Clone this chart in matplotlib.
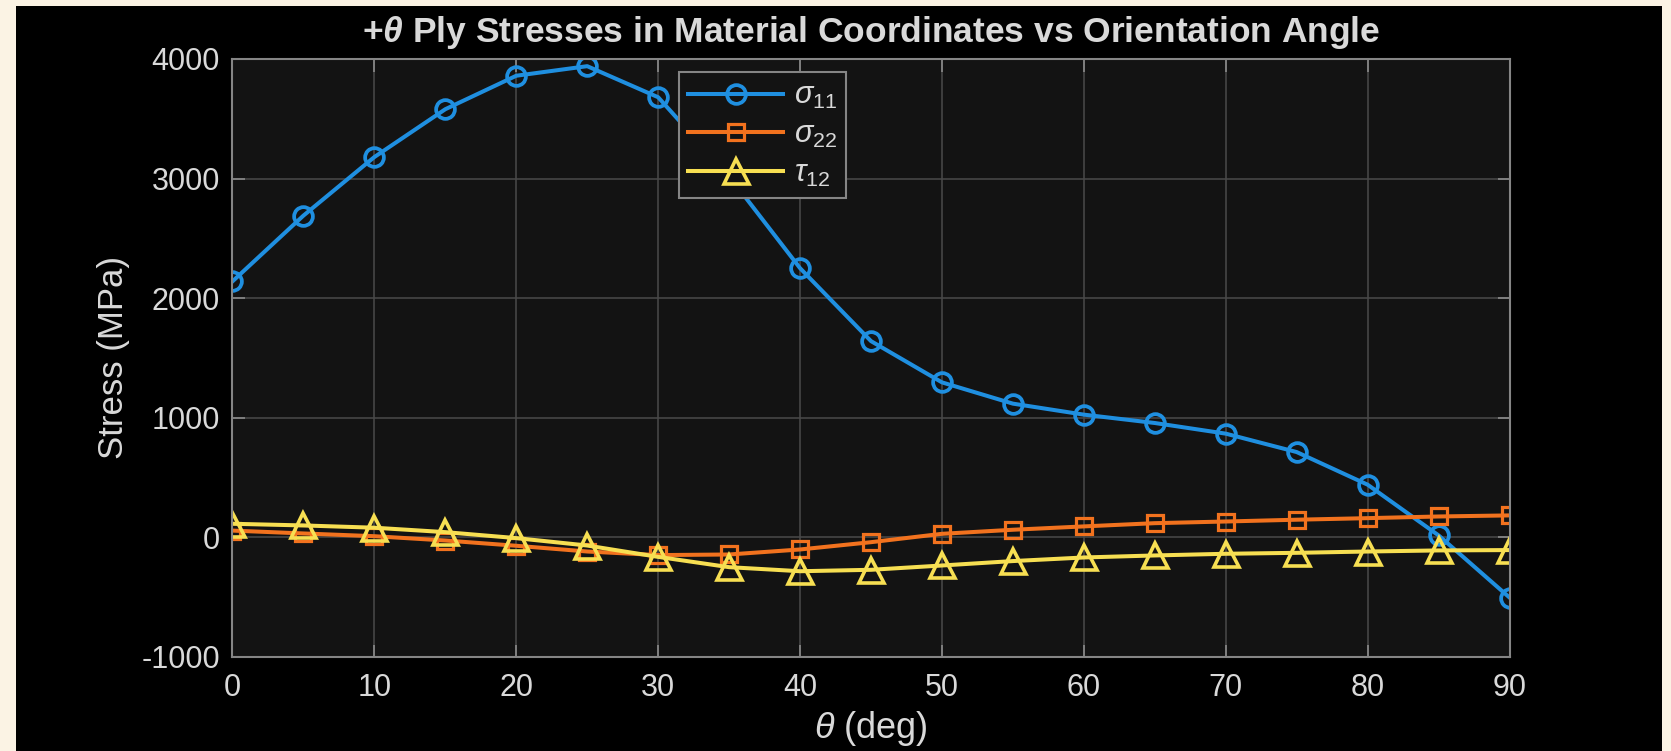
import matplotlib
matplotlib.use('Agg')
import matplotlib.pyplot as plt
from matplotlib.patches import Rectangle

# ply orientation angle (deg) and +theta ply stresses in material axes (MPa)
theta = [0, 5, 10, 15, 20, 25, 30, 35, 40, 45, 50, 55, 60, 65, 70, 75, 80, 85, 90]
sigma_11 = [2140, 2690, 3180, 3580, 3860, 3940, 3680, 3020, 2250, 1640,
            1295, 1117, 1025, 955, 866, 712, 439, 15, -505]
sigma_22 = [55, 31, 8, -28, -72, -120, -150, -145, -103, -42,
            28, 62, 90, 117, 131, 146, 159, 173, 182]
tau_12 = [112, 98, 79, 42, -8, -70, -165, -251, -285, -273,
          -237, -200, -170, -153, -139, -131, -120, -111, -108]

series_labels = [r'$\sigma_{11}$', r'$\sigma_{22}$', r'$\tau_{12}$']
x_ticks = [0, 10, 20, 30, 40, 50, 60, 70, 80, 90]
y_ticks = [-1000, 0, 1000, 2000, 3000, 4000]

plt.rcParams['font.family'] = ['Liberation Sans', 'DejaVu Sans']
plt.rcParams['axes.unicode_minus'] = False
plt.rcParams['mathtext.fontset'] = 'custom'
plt.rcParams['mathtext.rm'] = 'Liberation Sans'
plt.rcParams['mathtext.it'] = 'Liberation Sans:italic'
plt.rcParams['mathtext.bf'] = 'Liberation Sans:bold'
plt.rcParams['mathtext.bfit'] = 'Liberation Sans:italic:bold'

txt = '#d9d9d9'
edge = '#858585'

W, H = 1671, 751
fig = plt.figure(figsize=(W / 100, H / 100), dpi=100)
fig.patch.set_facecolor('#fbf3e4')
# black panel behind everything, leaving a thin cream margin
fig.patches.append(Rectangle((16 / W, 0), (1662 - 16) / W, 1 - 6 / H,
                             transform=fig.transFigure, facecolor='black',
                             edgecolor='none', zorder=-10))

ax = fig.add_axes([232.5 / W, 1 - 656.7 / H, (1509.5 - 232.5) / W, (656.7 - 59) / H])
ax.set_facecolor('#131313')

ax.plot(theta, sigma_11, '-o', color='#1f8fe0', lw=2.9, ms=13.5, mew=2.7,
        mfc='none', label=series_labels[0])
ax.plot(theta, sigma_22, '-s', color='#f2721e', lw=2.9, ms=12, mew=2.3,
        mfc='none', label=series_labels[1])
ax.plot(theta, tau_12, '-^', color='#f7df52', lw=2.9, ms=18, mew=2.6,
        mfc='none', label=series_labels[2])

ax.set_xlim(0, 90)
ax.set_ylim(-1000, 4000)
ax.set_xticks(x_ticks)
ax.set_yticks(y_ticks)
ax.grid(True, color='#4a4a4a', lw=1.1)
ax.set_axisbelow(True)
for s in ax.spines.values():
    s.set_color(edge)
    s.set_linewidth(1.5)
ax.tick_params(direction='in', length=9, width=1.3, color=edge,
               labelcolor=txt, labelsize=22, top=True, right=True)
ax.tick_params(axis='x', pad=12)
ax.tick_params(axis='y', pad=9)

ax.set_xlabel(r'$\theta$ (deg)', fontsize=26, color=txt, labelpad=4)
ax.set_ylabel('Stress (MPa)', fontsize=25, color=txt, labelpad=8)
ax.set_title(r'+$\mathbfit{\theta}$ Ply Stresses in Material Coordinates vs Orientation Angle',
             fontsize=25.5, fontweight='bold', color=txt, pad=12)

leg = ax.legend(loc='upper left', bbox_to_anchor=(0.3497, 0.978),
                borderaxespad=0, fontsize=22, handlelength=3.1,
                labelspacing=0.28, borderpad=0.3, handletextpad=0.35,
                facecolor='#131313', edgecolor=edge, framealpha=1,
                fancybox=False)
leg.get_frame().set_linewidth(1.5)
for t in leg.get_texts():
    t.set_color(txt)

fig.savefig('out.png', dpi=100, facecolor=fig.get_facecolor())
